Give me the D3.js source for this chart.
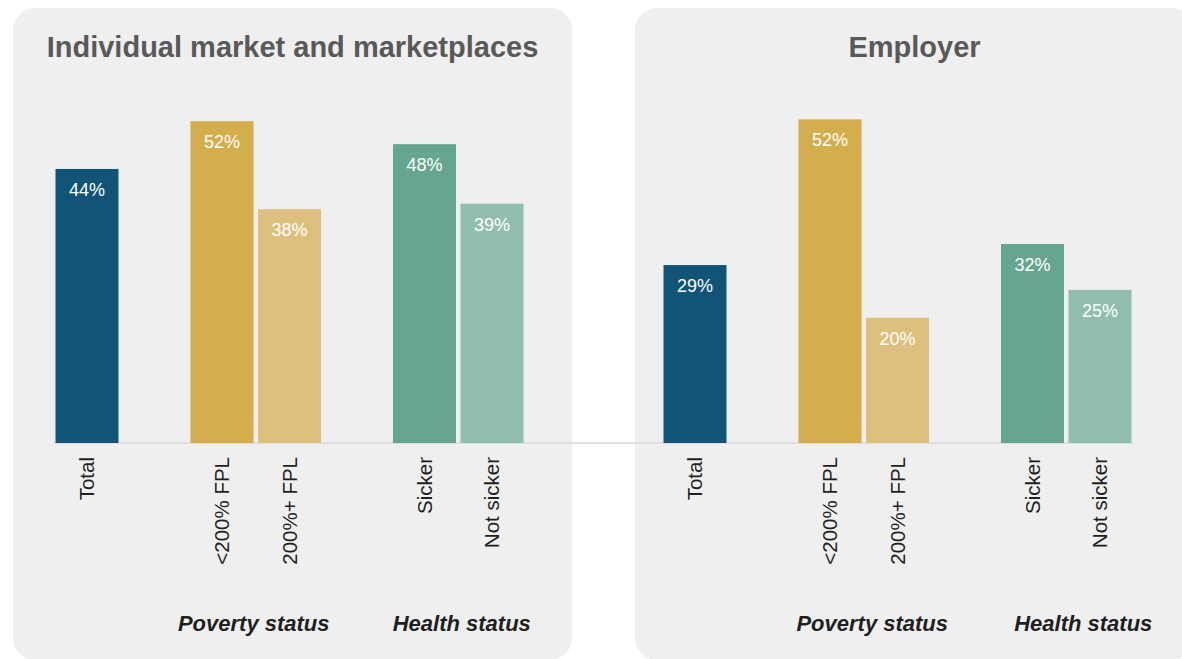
<!DOCTYPE html>
<html>
<head>
<meta charset="utf-8">
<script src="https://cdn.jsdelivr.net/npm/d3@7"></script>
<style>
  html, body { margin: 0; padding: 0; background: #ffffff; }
  svg { display: block; }
  text { font-family: "Liberation Sans", Arial, sans-serif; }
</style>
</head>
<body>
<svg id="chart" width="1182" height="659"></svg>
<script>
// ---- data ----
const panels = ["Individual market and marketplaces", "Employer"];
const categories = ["Total", "<200% FPL", "200%+ FPL", "Sicker", "Not sicker"];
const individualValues = [44.2, 51.9, 37.7, 48.2, 38.6];
const employerValues = [28.7, 52.2, 20.2, 32.1, 24.7];
const groupLabels = ["Poverty status", "Health status"];
const groupMembers = [["<200% FPL", "200%+ FPL"], ["Sicker", "Not sicker"]];
const colors = ["#115478", "#d4ad4d", "#ddc07e", "#66a690", "#91bdae"];

// slot layout: spacer slots between groups
const slots = ["Total", "_gap1", "<200% FPL", "200%+ FPL", "_gap2", "Sicker", "Not sicker"];

const svg = d3.select("#chart");
const baseY = 443;

const y = d3.scaleLinear().domain([0, 52]).range([baseY, baseY - 322.4]);
const color = d3.scaleOrdinal().domain(categories).range(colors);
const fmt = v => d3.format(".0f")(v) + "%";

const panelDefs = [
  { title: panels[0], values: individualValues, bg: [13, 559], range: [55.5, 523.5], gdx: [-2, 3.5] },
  { title: panels[1], values: employerValues, bg: [635, 559], range: [663.5, 1131.5], gdx: [8.5, 17] }
];

// panel backgrounds
panelDefs.forEach(p => {
  svg.append("rect")
    .attr("x", p.bg[0]).attr("y", 8)
    .attr("width", p.bg[1]).attr("height", 652)
    .attr("rx", 22).attr("ry", 22)
    .attr("fill", "#efefef");
});

// baseline across both panels
svg.append("line")
  .attr("x1", 54).attr("x2", 1133)
  .attr("y1", baseY).attr("y2", baseY)
  .attr("stroke", "#d9d9d9").attr("stroke-width", 1.5);

panelDefs.forEach(p => {
  const x = d3.scaleBand().domain(slots).range(p.range).paddingInner(0.0667).paddingOuter(0);
  const g = svg.append("g");
  const data = categories.map((c, i) => ({ cat: c, value: p.values[i] }));

  // title
  g.append("text")
    .attr("x", p.bg[0] + p.bg[1] / 2)
    .attr("y", 57)
    .attr("text-anchor", "middle")
    .attr("font-size", 29)
    .attr("font-weight", "bold")
    .attr("fill", "#595959")
    .text(p.title);

  // bars
  g.selectAll("rect.bar").data(data).enter().append("rect")
    .attr("class", "bar")
    .attr("x", d => x(d.cat))
    .attr("y", d => y(d.value))
    .attr("width", x.bandwidth())
    .attr("height", d => baseY - y(d.value))
    .attr("fill", d => color(d.cat));

  // value labels
  g.selectAll("text.val").data(data).enter().append("text")
    .attr("class", "val")
    .attr("x", d => x(d.cat) + x.bandwidth() / 2)
    .attr("y", d => y(d.value) + 27)
    .attr("text-anchor", "middle")
    .attr("font-size", 18)
    .attr("fill", "#ffffff")
    .text(d => fmt(d.value));

  // category labels (rotated)
  g.selectAll("text.cat").data(data).enter().append("text")
    .attr("class", "cat")
    .attr("transform", d => `translate(${x(d.cat) + x.bandwidth() / 2 + 7},${baseY + 14}) rotate(-90)`)
    .attr("text-anchor", "end")
    .attr("font-size", 20.5)
    .attr("fill", "#1f1f1f")
    .text(d => d.cat);

  // group labels
  groupLabels.forEach((lab, gi) => {
    const mem = groupMembers[gi];
    const cx = (x(mem[0]) + x(mem[1]) + x.bandwidth()) / 2;
    g.append("text")
      .attr("x", cx + p.gdx[gi])
      .attr("y", 631)
      .attr("text-anchor", "middle")
      .attr("font-size", 22)
      .attr("font-weight", "bold")
      .attr("font-style", "italic")
      .attr("fill", "#1f1f1f")
      .text(lab);
  });
});
</script>
</body>
</html>
